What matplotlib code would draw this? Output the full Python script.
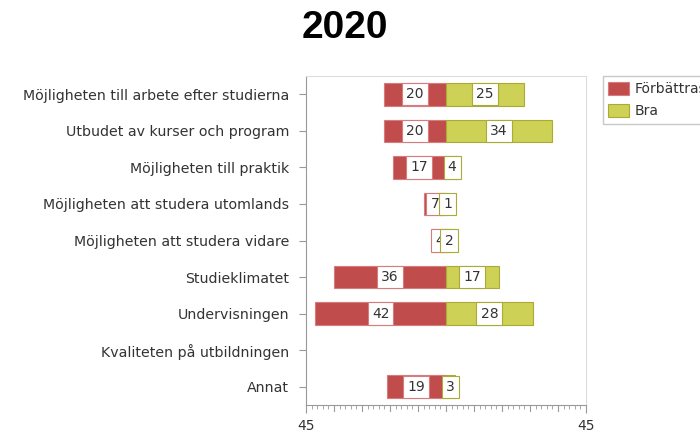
import numpy as np
import matplotlib
matplotlib.use('Agg')
import matplotlib.pyplot as plt
from matplotlib.ticker import MultipleLocator, FixedFormatter, FixedLocator

# Data
kategorier = ['Möjligheten till arbete efter studierna',
              'Utbudet av kurser och program',
              'Möjligheten till praktik',
              'Möjligheten att studera utomlands',
              'Möjligheten att studera vidare',
              'Studieklimatet',
              'Undervisningen',
              'Kvaliteten på utbildningen',
              'Annat']
forbattras = [20, 20, 17, 7, 4, 36, 42, 0, 19]
bra = [25, 34, 4, 1, 2, 17, 28, 0, 3]
serie_namn = ['Förbättras', 'Bra']

rod = '#C04C4C'
gul = '#CDD155'
rod_kant = '#D77C7C'
gul_kant = '#A9AB36'
textfarg = '#333333'

plt.rcParams['font.family'] = ['DejaVu Sans']
fig = plt.figure(figsize=(7, 4.32), dpi=100)
ax = fig.add_axes([0.437, 0.0625, 0.4, 0.7615])

y = np.arange(len(kategorier))
h = 0.62
# bara staplar med värde > 0
ri = [i for i in range(len(kategorier)) if forbattras[i] > 0]
gi = [i for i in range(len(kategorier)) if bra[i] > 0]
ax.barh([y[i] for i in ri], [-forbattras[i] for i in ri], height=h, color=rod,
        edgecolor=rod_kant, linewidth=0.8, label=serie_namn[0], zorder=2)
ax.barh([y[i] for i in gi], [bra[i] for i in gi], height=h, color=gul,
        edgecolor=gul_kant, linewidth=0.8, label=serie_namn[1], zorder=2)

# etiketter
for i in ri:
    ax.text(-forbattras[i] / 2, y[i], str(forbattras[i]), ha='center', va='center',
            fontsize=10, color=textfarg, zorder=3,
            bbox=dict(boxstyle='square,pad=0.3', fc='white', ec=rod_kant, lw=0.8))
for i in gi:
    ax.text(bra[i] / 2, y[i], str(bra[i]), ha='center', va='center',
            fontsize=10, color=textfarg, zorder=4,
            bbox=dict(boxstyle='square,pad=0.3', fc='white', ec=gul_kant, lw=0.8))

ax.set_xlim(-45, 45)
ax.set_ylim(len(kategorier) - 0.5, -0.5)
ax.set_yticks(y)
ax.set_yticklabels(kategorier, fontsize=10.2, color=textfarg)
ax.xaxis.set_major_locator(FixedLocator([-45, 45]))
ax.xaxis.set_major_formatter(FixedFormatter(['45', '45']))
ax.xaxis.set_minor_locator(MultipleLocator(1.8))
ax.tick_params(axis='x', which='major', length=6, color='#999999', labelsize=10,
               labelcolor=textfarg, pad=4)
ax.tick_params(axis='x', which='minor', length=3, color='#999999')
ax.tick_params(axis='y', length=5, color='#999999', pad=7)
# större streck var 9:e
for xv in np.arange(-36, 45, 9):
    ax.plot([xv, xv], [0, -0.018], transform=ax.get_xaxis_transform(), color='#999999',
            lw=0.8, clip_on=False)

for s in ['left', 'bottom']:
    ax.spines[s].set_color('#999999')
for s in ['top', 'right']:
    ax.spines[s].set_color('#dddddd')

fig.text(0.493, 0.935, '2020', ha='center', va='center', fontsize=28,
         fontweight='bold', family='Liberation Sans', fontstretch='condensed')

leg = ax.legend(loc='upper left', bbox_to_anchor=(1.06, 1.0), borderaxespad=0,
                fontsize=10, frameon=True, fancybox=False, edgecolor='#bbbbbb',
                handlelength=1.5, handleheight=1.1, borderpad=0.4, labelspacing=0.55,
                handletextpad=0.4)
for t in leg.get_texts():
    t.set_color(textfarg)

fig.savefig('out.png', dpi=100)
